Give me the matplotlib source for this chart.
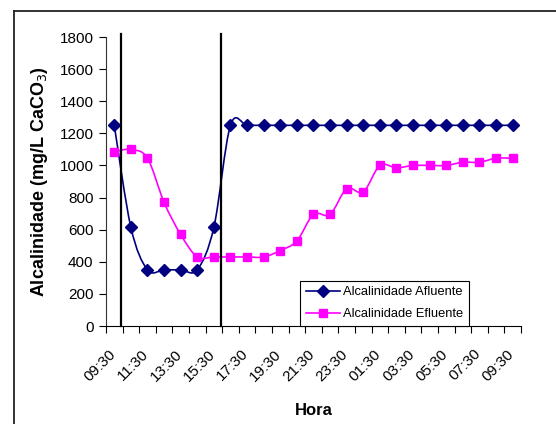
import numpy as np
import matplotlib
matplotlib.use('Agg')
import matplotlib.pyplot as plt
from matplotlib.path import Path
from matplotlib.patches import PathPatch
from matplotlib.lines import Line2D

plt.rcParams['font.family'] = ['Liberation Sans', 'DejaVu Sans']

# dados
horas = ['09:30', '10:30', '11:30', '12:30', '13:30', '14:30', '15:30', '16:30',
         '17:30', '18:30', '19:30', '20:30', '21:30', '22:30', '23:30', '00:30',
         '01:30', '02:30', '03:30', '04:30', '05:30', '06:30', '07:30', '08:30', '09:30']
afluente = [1250, 615, 350, 350, 350, 350, 615, 1250, 1250, 1250, 1250, 1250, 1250,
            1250, 1250, 1250, 1250, 1250, 1250, 1250, 1250, 1250, 1250, 1250, 1250]
efluente = [1085, 1100, 1045, 770, 570, 430, 430, 430, 430, 430, 470, 530, 695,
            695, 855, 835, 1000, 985, 1000, 1000, 1000, 1020, 1020, 1045, 1045]
marcos = [0.42, 6.42]  # linhas verticais


def smooth_path(x, y):
    # curva suavizada tipo Excel (Bezier / Catmull-Rom)
    pts = np.column_stack([x, y]).astype(float)
    n = len(pts)
    verts = [pts[0]]
    codes = [Path.MOVETO]
    for i in range(n - 1):
        p0 = pts[i - 1] if i > 0 else pts[i]
        p1 = pts[i]
        p2 = pts[i + 1]
        p3 = pts[i + 2] if i + 2 < n else pts[i + 1]
        c1 = p1 + (p2 - p0) / 6.0
        c2 = p2 - (p3 - p1) / 6.0
        verts += [c1, c2, p2]
        codes += [Path.CURVE4] * 3
    return Path(verts, codes)


fig = plt.figure(figsize=(5.56, 4.24), dpi=100)
ax = fig.add_axes([0.1906, 0.2311, 0.7464, 0.6816])

x = np.arange(len(horas))

ax.add_patch(PathPatch(smooth_path(x, afluente), fc='none', ec='#000080', lw=1.2))
ax.add_patch(PathPatch(smooth_path(x, efluente), fc='none', ec='#FF00FF', lw=1.2))
ax.plot(x, afluente, ls='none', marker='D', color='#000080', ms=6.3)
ax.plot(x, efluente, ls='none', marker='s', color='#FF00FF', ms=5.5)

for m in marcos:
    ax.plot([m, m], [0, 1820], color='black', lw=1.6, clip_on=False)

ax.set_xlim(-0.5, len(horas) - 0.5)
ax.set_ylim(0, 1800)
ax.set_yticks(np.arange(0, 1801, 200))
ax.set_xticks(np.arange(-0.5, len(horas)), minor=False)
ax.set_xticklabels([])
# rótulos rodados, com o fim do texto um pouco à esquerda da categoria
ax.set_xticks(x[::2] - 0.36, minor=True)
ax.set_xticklabels(horas[::2], minor=True, rotation=45, ha='right', va='top',
                   rotation_mode='anchor', fontsize=11)
ax.tick_params(axis='x', which='minor', length=0, pad=15)
ax.tick_params(axis='x', which='major', length=5, direction='out', width=0.8)
ax.tick_params(axis='y', length=5, direction='out', width=0.8, labelsize=11, pad=4)

for s in ['top', 'right']:
    ax.spines[s].set_visible(False)
ax.spines['left'].set_color('#333333')

ax.set_ylabel('Alcalinidade (mg/L CaCO$_3$)', fontsize=13, fontweight='bold', labelpad=7)
ax.set_xlabel('Hora', fontsize=12, fontweight='bold', labelpad=14)

h1 = Line2D([], [], color='#000080', marker='D', ms=6.3, lw=1.2)
h2 = Line2D([], [], color='#FF00FF', marker='s', ms=5.5, lw=1.2)
leg = ax.legend([h1, h2], ['Alcalinidade Afluente', 'Alcalinidade Efluente'],
                loc='lower left', bbox_to_anchor=(0.468, 0.0), fontsize=9.3,
                frameon=True, fancybox=False, edgecolor='black', framealpha=1,
                borderpad=0.45, handlelength=2.6, handletextpad=0.3, labelspacing=0.75,
                borderaxespad=0)
leg.get_frame().set_linewidth(0.8)

# moldura da figura
fig.add_artist(Line2D([13.5 / 556, 13.5 / 556], [0, 1 - 11 / 424], color='#222222', lw=1.3))
fig.add_artist(Line2D([13.5 / 556, 1], [1 - 11 / 424, 1 - 11 / 424], color='#222222', lw=1.3))

fig.savefig('out.png', dpi=100)
